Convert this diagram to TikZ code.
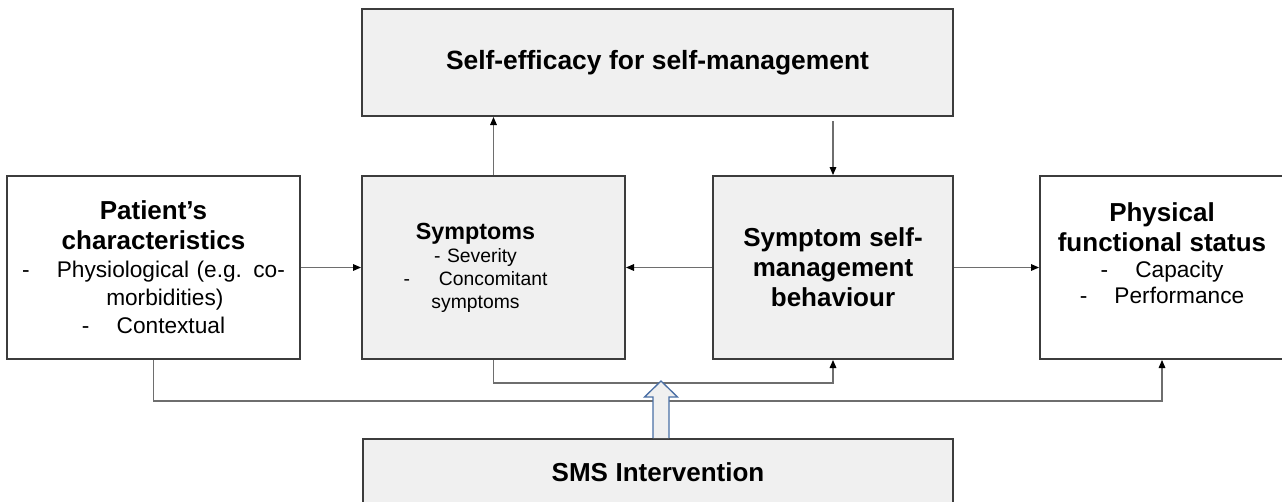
\documentclass[tikz,border=0pt]{standalone}
\usepackage{fontspec}
\setmainfont{Liberation Sans}
\usetikzlibrary{arrows.meta}
\setlength{\parindent}{0pt}

\definecolor{boxgray}{HTML}{F0F0F0}
\definecolor{edgegray}{HTML}{3C3C3C}
\definecolor{linegray}{HTML}{6E6E6E}
\definecolor{arrowblue}{HTML}{4A6FA5}

\newcommand{\hd}[1]{{\fontsize{19.5}{22.5}\selectfont\bfseries #1\par}}

\tikzset{
  box/.style={draw=edgegray, line width=1.5pt, fill=white, align=center,
    inner sep=2pt, minimum height=137.25pt, font=\fontsize{17}{21}\selectfont},
  shaded/.style={box, fill=boxgray},
  link/.style={draw=linegray, line width=0.8pt,
    -{Triangle[length=6pt,width=5pt,black]}},
  hollow/.style={draw=arrowblue, fill=boxgray, line width=1pt, line join=miter},
}

\begin{document}
\begin{tikzpicture}[x=0.75pt, y=-0.75pt]
\useasboundingbox (0,0) rectangle (1282,501);

\node[shaded, minimum width=443.25pt, minimum height=80.25pt, text width=430pt] (selfeff) at (657.5,62.5)
  {\fontsize{19.8}{23}\selectfont\bfseries Self-efficacy for self-management};
\node[box, minimum width=219.75pt, text width=212pt] (patient) at (153.5,267.5)
  {\hd{Patient’s\\characteristics}
   -\hspace{1.2em}Physiological (e.g. co-\\ \hspace*{17pt}morbidities)\\ -\hspace{1.2em}Contextual};
\node[shaded, minimum width=197.25pt, text width=190pt, font=\fontsize{14.5}{17.25}\selectfont] (symptoms) at (493.5,267.5)
  {\advance\rightskip by 27pt
   {\fontsize{17.5}{20}\selectfont\bfseries Symptoms\par}
   - Severity\\ -\hspace{1.5em}Concomitant\\ symptoms\par};
\node[shaded, minimum width=180pt, text width=172pt] (selfmgmt) at (833,267.5)
  {\hd{Symptom self-\\management\\behaviour}};
\node[box, minimum width=183pt, text width=175pt, font=\fontsize{17}{19.5}\selectfont] (physical) at (1162,267.5)
  {\hd{Physical\\functional status}
   -\hspace{1.2em}Capacity\\ -\hspace{1.2em}Performance\par\vspace{2pt}\hbox{}};
\node[shaded, minimum width=442.5pt, minimum height=49.5pt, text width=430pt] (sms) at (658,472)
  {\fontsize{19.5}{22}\selectfont\bfseries SMS Intervention};

% arrows between the boxes
\draw[link] (patient.east) -- (symptoms.west);
\draw[link] (selfmgmt.west) -- (symptoms.east);
\draw[link] (selfmgmt.east) -- (physical.west);
\draw[link] (symptoms.north) -- (symptoms.north |- selfeff.south);
\draw[link] ([yshift=-3pt]selfeff.south -| selfmgmt.north) -- (selfmgmt.north);
\draw[link] (symptoms.south) -- ++(0,23) -| (selfmgmt.south);
\draw[link] (patient.south) -- ++(0,41) -| (physical.south);

% intervention arrow
\draw[hollow] ([xshift=2.25pt]sms.north) ++(-8,0) -- ++(0,-41) -- ++(-8.5,0)
  -- ++(16.5,-16) -- ++(16.5,16) -- ++(-8.5,0) -- ++(0,41);
\end{tikzpicture}
\end{document}
